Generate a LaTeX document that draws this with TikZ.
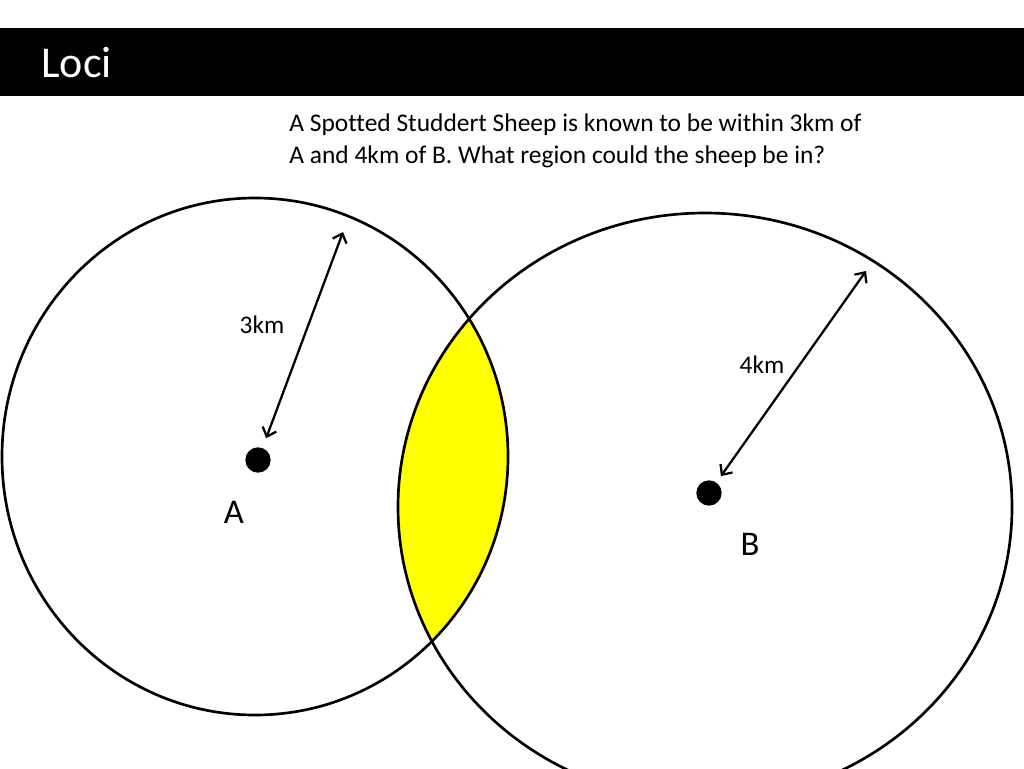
\documentclass[tikz,border=0pt]{standalone}
\usepackage{fontspec}
\setmainfont{Carlito}[Ligatures=NoCommon]
\usetikzlibrary{arrows.meta}

\definecolor{regionyellow}{RGB}{255,255,0}
\tikzset{every picture/.style={line width=2pt}}
\tikzset{dot/.style={circle,fill=black,inner sep=0pt,minimum size=19pt},
  radius arrow/.style={line width=1.7pt,{Straight Barb[length=6pt,width=11pt]}-{Straight Barb[length=6pt,width=11pt]}}}

\begin{document}
\begin{tikzpicture}[x=0.75pt,y=0.75pt,yscale=-1,xscale=1]
\useasboundingbox (0,0) rectangle (1024,768);

%Shape: Rectangle [title bar]
\fill [black] (0,28) rectangle (1024,96);
% Text Node
\draw (40,77) node [anchor=base west,inner sep=0pt,text=white,font=\fontsize{33}{40}\selectfont] (heading) {Loci};
% Text Node
\draw (288,163) node [anchor=base west,inner sep=0pt,align=left,font=\fontsize{19.1}{24}\selectfont] (question) {A Spotted Studdert Sheep is known to be within 3km of\\A and 4km of B. What region could the sheep be in?};

%Shape: Intersection [yellow region]
\begin{scope}
\clip (255,456.5) ellipse [x radius=253, y radius=258.5];
\fill [regionyellow] (705,507) ellipse [x radius=307, y radius=294];
\end{scope}

%Shape: Circle [circle A]
\draw (255,456.5) ellipse [x radius=253, y radius=258.5];
%Shape: Circle [circle B]
\draw (705,507) ellipse [x radius=307, y radius=294];

%Shape: Circle [centre A]
\node [dot] (A) at (258,460) {};
%Shape: Circle [centre B]
\node [dot] (B) at (709,493) {};

\coordinate (A rim) at (343,232);
\coordinate (B rim) at (866,271);

%Straight Lines [radius A]
\draw [radius arrow,shorten <=7pt] (A) -- (A rim);
%Straight Lines [radius B]
\draw [radius arrow,shorten <=5pt] (B) -- (B rim);

% Text Node
\draw (262,325) node [font=\fontsize{19}{22}\selectfont] (len A) {3km};
% Text Node
\draw (762,365) node [font=\fontsize{19}{22}\selectfont] (len B) {4km};
% Text Node
\draw (234,512) node [font=\fontsize{26}{30}\selectfont] (name A) {A};
% Text Node
\draw (750,544) node [font=\fontsize{26}{30}\selectfont] (name B) {B};

\end{tikzpicture}
\end{document}
